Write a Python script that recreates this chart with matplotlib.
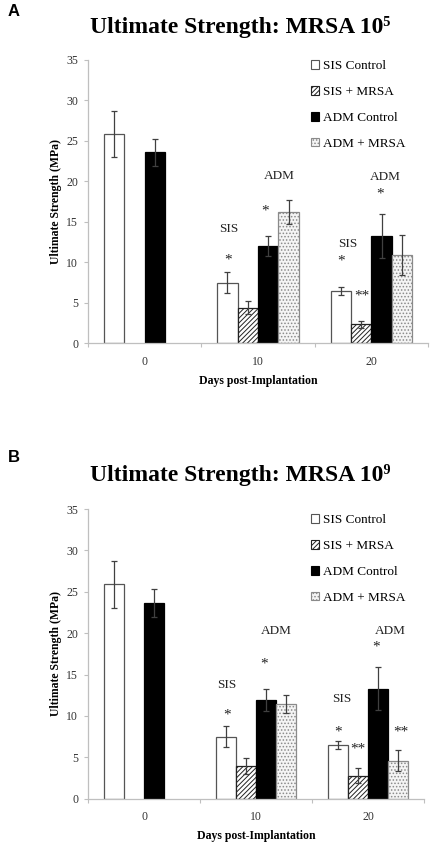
import numpy as np
import matplotlib
matplotlib.use("Agg")
import matplotlib.pyplot as plt
from matplotlib.patches import Patch

# ---------------- data ----------------
days = ["0", "10", "20"]
series = ["SIS Control", "SIS + MRSA", "ADM Control", "ADM + MRSA"]

# Panel A: MRSA 10^5
a_sis_ctrl = [25.9, 7.5, 6.5]
a_sis_ctrl_err = [2.85, 1.3, 0.5]
a_sis_mrsa = [np.nan, 4.4, 2.35]
a_sis_mrsa_err = [np.nan, 0.8, 0.45]
a_adm_ctrl = [23.6, 12.0, 13.25]
a_adm_ctrl_err = [1.7, 1.2, 2.7]
a_adm_mrsa = [np.nan, 16.2, 10.9]
a_adm_mrsa_err = [np.nan, 1.5, 2.5]

# Panel B: MRSA 10^9
b_sis_ctrl = [25.9, 7.5, 6.5]
b_sis_ctrl_err = [2.85, 1.3, 0.5]
b_sis_mrsa = [np.nan, 3.95, 2.8]
b_sis_mrsa_err = [np.nan, 1.0, 0.95]
b_adm_ctrl = [23.6, 11.95, 13.3]
b_adm_ctrl_err = [1.7, 1.3, 2.6]
b_adm_mrsa = [np.nan, 11.4, 4.6]
b_adm_mrsa_err = [np.nan, 1.1, 1.3]

# annotations: (text, x in category units, y in MPa)
a_notes = [("*", 0.74, 10.3), ("SIS", 0.74, 14.1), ("*", 1.06, 16.4), ("ADM", 1.19, 20.7),
           ("*", 1.73, 10.2), ("SIS", 1.79, 12.3), ("**", 1.92, 5.8), ("*", 2.08, 18.5),
           ("ADM", 2.12, 20.6)]
b_notes = [("*", 0.74, 10.1), ("SIS", 0.74, 13.7), ("*", 1.07, 16.25), ("ADM", 1.18, 20.3),
           ("*", 1.73, 8.0), ("SIS", 1.77, 12.1), ("**", 1.91, 6.0), ("*", 2.07, 18.3),
           ("ADM", 2.2, 20.3), ("**", 2.29, 8.0)]

# ---------------- style ----------------
W, H = 430, 847
fig = plt.figure(figsize=(W / 100, H / 100), dpi=100)
SERIF = ["Liberation Serif", "DejaVu Serif"]
plt.rcParams["hatch.linewidth"] = 0.7

def ax_rect(x0, x1, ytop, ybot):
    return [x0 / W, 1 - ybot / H, (x1 - x0) / W, (ybot - ytop) / H]

styles = [
    dict(facecolor="white", edgecolor="#555555", hatch=None),
    dict(facecolor="white", edgecolor="#222222", hatch="///////"),
    dict(facecolor="black", edgecolor="black", hatch=None),
    dict(facecolor="#f4f4f4", edgecolor="#8a8a8a", hatch="....."),
]

def panel(rect, vals, errs, notes, title, letter, letter_y, title_y, legend_y):
    ax = fig.add_axes(rect)
    x = np.arange(len(days))
    w = 0.18
    offs = [-1.5 * w, -0.5 * w, 0.5 * w, 1.5 * w]
    for i in range(4):
        v = np.array(vals[i], dtype=float)
        e = np.array(errs[i], dtype=float)
        st = styles[i]
        ax.bar(x + offs[i], v, w, facecolor=st["facecolor"], edgecolor=st["edgecolor"],
               hatch=st["hatch"], linewidth=0.9, label=series[i], zorder=2)
        ax.errorbar(x + offs[i], v, yerr=e, fmt="none", ecolor="#404040",
                    elinewidth=0.9, capsize=2.5, capthick=0.9, zorder=3)
    for t, xx, yy in notes:
        fs = 11 if t.startswith("*") else 9.5
        ax.text(xx, yy, t, ha="center", va="center", fontsize=fs, family=SERIF,
                color="#222222")
    ax.set_xlim(-0.5, 2.5)
    ax.set_ylim(0, 35)
    ax.set_yticks(range(0, 36, 5))
    ax.set_xticks([-0.5, 0.5, 1.5, 2.5], minor=False)
    ax.set_xticklabels([])
    ax.set_xticks(x, minor=True)
    ax.set_xticklabels(days, minor=True)
    ax.tick_params(axis="x", which="minor", length=0, pad=9, labelsize=8.5, labelcolor="#333333")
    ax.tick_params(axis="x", which="major", length=3, color="#bfbfbf", width=0.8)
    ax.tick_params(axis="y", length=3, color="#bfbfbf", width=0.8, labelsize=8.5,
                   labelcolor="#333333", pad=4)
    for lab in ax.get_xticklabels(minor=True) + ax.get_yticklabels():
        lab.set_family(SERIF)
    for s in ["top", "right"]:
        ax.spines[s].set_visible(False)
    for s in ["left", "bottom"]:
        ax.spines[s].set_color("#bfbfbf")
        ax.spines[s].set_linewidth(0.9)
    ax.set_ylabel("Ultimate Strength (MPa)", family=SERIF, fontweight="bold",
                  fontsize=8.5, labelpad=3)
    ax.set_xlabel("Days post-Implantation", family=SERIF, fontweight="bold",
                  fontsize=8.5, labelpad=5)
    handles = [Patch(facecolor=st["facecolor"], edgecolor=st["edgecolor"], hatch=st["hatch"],
                     linewidth=0.8) for st in styles]
    fig.legend(handles, series, loc="upper left", frameon=False,
               bbox_to_anchor=(306 / W, 1 - legend_y / H), prop=dict(family=SERIF, size=9.5),
               handlelength=0.6, handleheight=0.6, handletextpad=0.3, labelspacing=1.05,
               borderaxespad=0)
    fig.text(240 / W, 1 - title_y / H, title, ha="center", va="center",
             family=SERIF, fontweight="bold", fontsize=17)
    fig.text(8 / W, 1 - letter_y / H, letter, ha="left", va="center",
             family=["Liberation Sans", "DejaVu Sans"], fontweight="bold", fontsize=12)
    return ax

panel(ax_rect(88, 428, 60, 343.3),
      [a_sis_ctrl, a_sis_mrsa, a_adm_ctrl, a_adm_mrsa],
      [a_sis_ctrl_err, a_sis_mrsa_err, a_adm_ctrl_err, a_adm_mrsa_err],
      a_notes, "Ultimate Strength: MRSA 10\u2075", "A", 12, 27, 55)

panel(ax_rect(88, 424, 509, 798.7),
      [b_sis_ctrl, b_sis_mrsa, b_adm_ctrl, b_adm_mrsa],
      [b_sis_ctrl_err, b_sis_mrsa_err, b_adm_ctrl_err, b_adm_mrsa_err],
      b_notes, "Ultimate Strength: MRSA 10\u2079", "B", 457, 475, 509)

fig.savefig("out.png", dpi=100)
